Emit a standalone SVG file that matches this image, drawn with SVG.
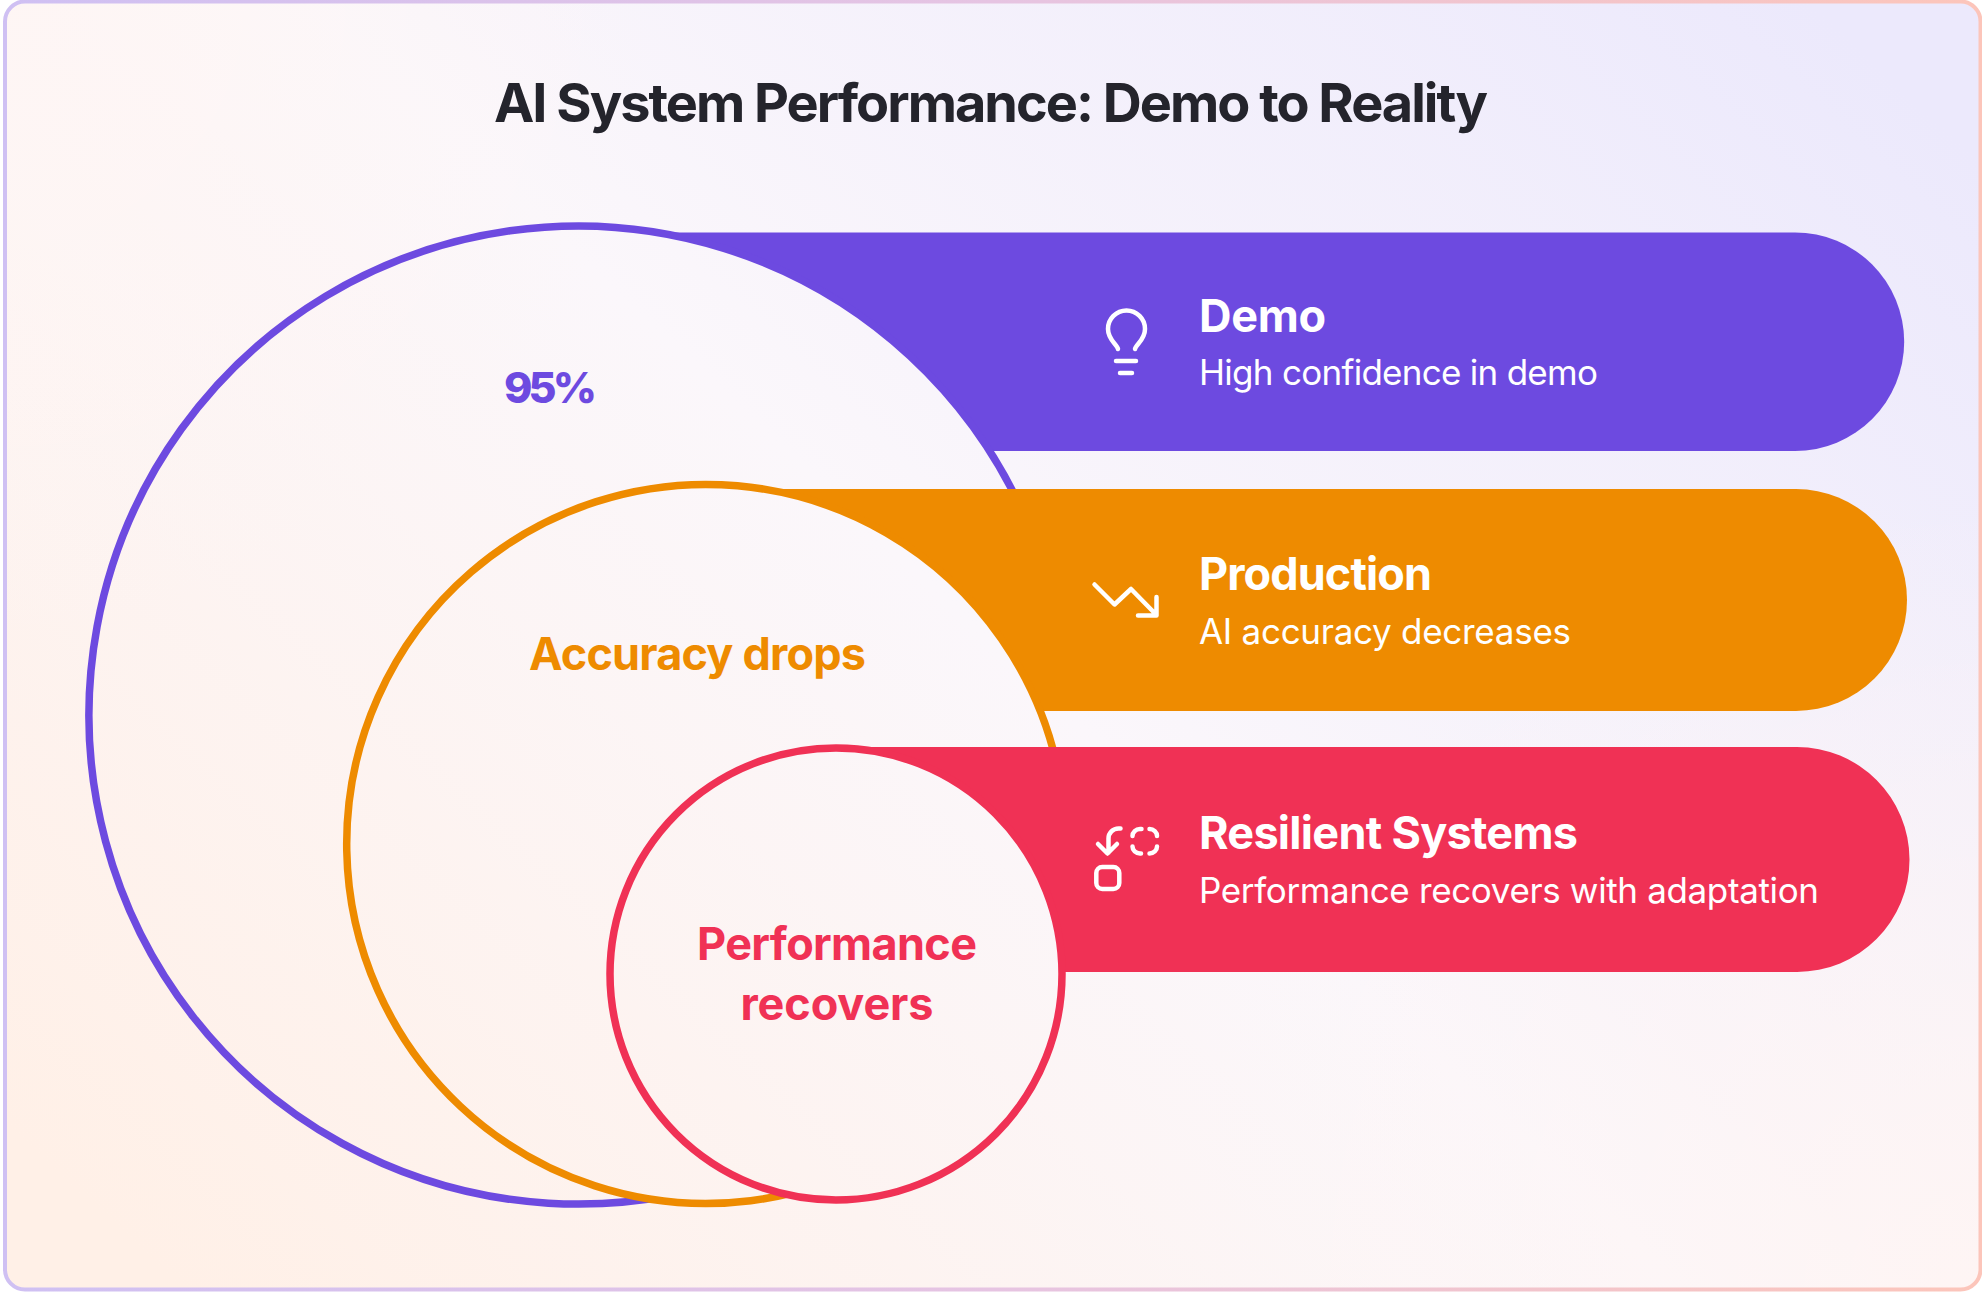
<svg xmlns="http://www.w3.org/2000/svg" width="1982" height="1293" viewBox="0 0 1982 1293">
<defs>
<linearGradient id="base" gradientUnits="userSpaceOnUse" x1="300" y1="1400" x2="1700" y2="-100">
<stop offset="0" stop-color="#fff0e7"/><stop offset="0.5" stop-color="#fbf7fb"/><stop offset="1" stop-color="#ece9fc"/>
</linearGradient>
<radialGradient id="tl" gradientUnits="userSpaceOnUse" cx="0" cy="0" r="650">
<stop offset="0" stop-color="#fff6f4" stop-opacity=".8"/><stop offset="1" stop-color="#fff6f4" stop-opacity="0"/>
</radialGradient>
<radialGradient id="br" gradientUnits="userSpaceOnUse" cx="1982" cy="1293" r="800">
<stop offset="0" stop-color="#fff5f3" stop-opacity=".9"/><stop offset="1" stop-color="#fff5f3" stop-opacity="0"/>
</radialGradient>
<pattern id="bg" patternUnits="userSpaceOnUse" x="0" y="0" width="1982" height="1293">
<rect width="1982" height="1293" fill="url(#base)"/>
<rect width="1982" height="1293" fill="url(#tl)"/>
<rect width="1982" height="1293" fill="url(#br)"/>
</pattern>
<linearGradient id="bd" gradientUnits="userSpaceOnUse" x1="0" y1="0" x2="1982" y2="0">
<stop offset="0" stop-color="#cfc0f3"/><stop offset="0.5" stop-color="#e6c4e2"/><stop offset="1" stop-color="#fcc5ba"/>
</linearGradient>
<style>
text{font-family:Inter,"Liberation Sans",sans-serif}
.t{font-size:54px;font-weight:700;fill:#24242c}
.h{font-size:45px;font-weight:700;fill:#fff}
.s{font-size:35px;font-weight:400;fill:#fff}
.c{font-size:45px;font-weight:700}
.i{fill:none;stroke:#fff;stroke-width:4.5;stroke-linecap:round;stroke-linejoin:round}
.f{fill:url(#bg)}
.o{fill:none;stroke-width:7.500}
</style>
</defs>
<rect x="5" y="1.500" width="1975.500" height="1288" rx="20" fill="url(#bg)" stroke="url(#bd)" stroke-width="4"/>
<text class="t" x="494" y="122" textLength="994" lengthAdjust="spacing">AI System Performance: Demo to Reality</text>
<g id="demo">
<path d="M578 232.500H1795a109 109 0 0 1 0 218.500H578Z" fill="#6d4ae0"/>
<circle class="f" cx="578" cy="715" r="489"/>
<path class="o" d="M1024.200 515A489 489 0 1 0 923.800 1060.800" stroke="#6d4ae0"/>
<text x="504" y="403" fill="#6d4ae0" font-size="43" font-weight="800" textLength="93" lengthAdjust="spacing">95%</text>
</g>
<g id="production">
<path d="M705 489H1796a111 111 0 0 1 0 222H705Z" fill="#ee8b00"/>
<circle class="f" cx="706" cy="844" r="359.500"/>
<path class="o" d="M1058 770A359.500 359.500 0 1 0 886 1155.300" stroke="#ee8b00"/>
<text class="c" x="529" y="670" fill="#ee8b00" textLength="337" lengthAdjust="spacing">Accuracy drops</text>
</g>
<g id="resilient">
<path d="M836 747H1797a112.500 112.500 0 0 1 0 225H836Z" fill="#f03155"/>
<circle class="o" style="fill:url(#bg)" cx="836" cy="974" r="226" stroke="#f03155"/>
<text class="c" x="837" y="960" text-anchor="middle" fill="#f03155" textLength="280" lengthAdjust="spacing">Performance</text>
<text class="c" x="837" y="1020" text-anchor="middle" fill="#f03155" textLength="193" lengthAdjust="spacing">recovers</text>
</g>
<g id="demo-label">
<path class="i" d="M1118 349c-1-5-10-9-10-20a18.500 18.500 0 0 1 37 0c0 11-9 15-10 20M1116 361h20M1120 373h12"/>
<text class="h" x="1199" y="332" textLength="127" lengthAdjust="spacing">Demo</text>
<text class="s" x="1199" y="385" textLength="399" lengthAdjust="spacing">High confidence in demo</text>
</g>
<g id="production-label">
<path class="i" d="M1094.500 584.500l20 20 16.500-15.500 25.500 26M1156.500 597v18.500h-18.500"/>
<text class="h" x="1199" y="590" textLength="233" lengthAdjust="spacing">Production</text>
<text class="s" x="1199" y="644" textLength="372" lengthAdjust="spacing">AI accuracy decreases</text>
</g>
<g id="resilient-label">
<path class="i" d="M1120.500 828.500h-2a10 10 0 0 0-10 10v14M1098 844l9.500 9.500 9.500-9.500"/>
<rect class="i" x="1096.300" y="867" width="23" height="22" rx="6"/>
<path class="i" d="M1132.500 836a7.500 7 0 0 1 7.500-7h1.500M1149.500 829a7.500 7 0 0 1 7.500 7M1157 846.500a7.500 7 0 0 1-7.500 7M1141 853.500h-1a7.500 7 0 0 1-7.500-7"/>
<text class="h" x="1199" y="849" textLength="379" lengthAdjust="spacing">Resilient Systems</text>
<text class="s" x="1199" y="903" textLength="620" lengthAdjust="spacing">Performance recovers with adaptation</text>
</g>
</svg>
